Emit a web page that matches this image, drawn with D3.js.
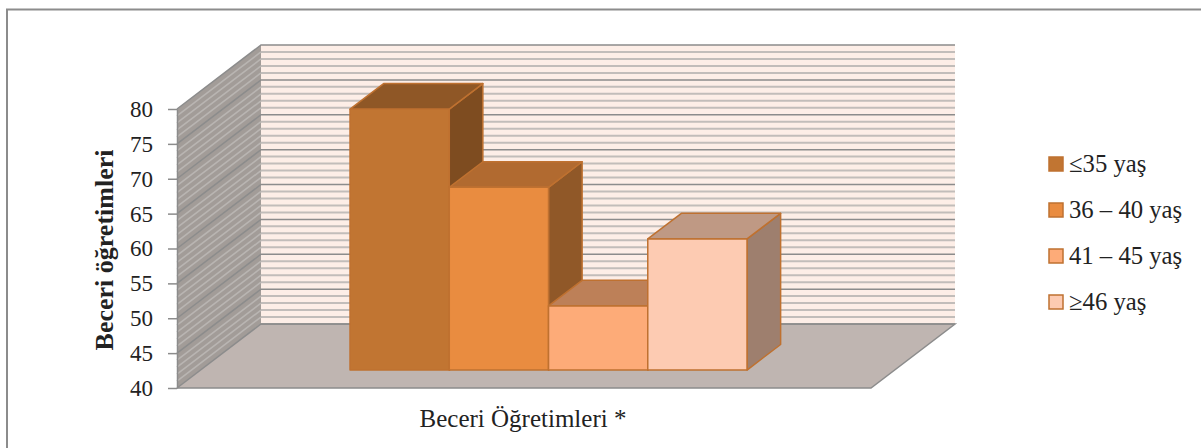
<!DOCTYPE html>
<html>
<head>
<meta charset="utf-8">
<script src="https://cdn.jsdelivr.net/npm/d3@7"></script>
<style>
html, body { margin: 0; padding: 0; background: #fff; }
svg { display: block; }
text { font-family: "Liberation Serif", serif; fill: #222; }
</style>
</head>
<body>
<div id="chart"></div>
<script>
const categories = ["≤35 yaş", "36 – 40 yaş", "41 – 45 yaş", "≥46 yaş"];
const values = [77.4, 66.2, 49.2, 58.8];
const tickValues = [40, 45, 50, 55, 60, 65, 70, 75, 80];
const minorValues = [41, 42, 43, 44, 46, 47, 48, 49, 51, 52, 53, 54, 56, 57, 58, 59, 61, 62, 63, 64, 66, 67, 68, 69, 71, 72, 73, 74, 76, 77, 78, 79];
const frontColours = ["#c17532", "#e98c40", "#fdab78", "#fdcbb2"];
const topColours = ["#8f5726", "#b16a30", "#bd8058", "#bf9984"];
const sideColours = ["#7e4c20", "#905828", "#a06a45", "#9e7f6e"];

const width = 1201, height = 448;
const svg = d3.select("#chart").append("svg").attr("width", width).attr("height", height);

const y = d3.scaleLinear().domain([40, 80]).range([388, 109]);
const xBand = d3.scaleBand().domain(categories).range([326.5, 723.5]).padding(0);

// oblique projection: depth 0 = front of floor, 1 = back wall
const depthX = d3.scaleLinear().domain([0, 1]).range([0, 84]);
const depthY = d3.scaleLinear().domain([0, 1]).range([0, -64]);
const barFront = 0.28, barBack = 0.68;
const floorLeft = 177, floorRight = 871;

const pt = (px, v, d) => [px + depthX(d), y(v) + depthY(d)];
const poly = pts => d3.line()(pts) + "Z";

// outer frame: only the top and left edges show in the crop
svg.append("path").attr("d", d3.line()([[7, height], [7, 9.5], [width, 9.5]]))
    .attr("fill", "none").attr("stroke", "#8c8c8c").attr("stroke-width", 2);

// back wall
svg.append("path").attr("d", poly([pt(floorLeft, 40, 1), pt(floorRight, 40, 1), pt(floorRight, 80, 1), pt(floorLeft, 80, 1)]))
    .attr("fill", "#fdeee7");

// side wall
svg.append("path").attr("d", poly([pt(floorLeft, 40, 0), pt(floorLeft, 40, 1), pt(floorLeft, 80, 1), pt(floorLeft, 80, 0)]))
    .attr("fill", "#a29c98");

// floor
svg.append("path").attr("d", poly([pt(floorLeft, 40, 0), pt(floorRight, 40, 0), pt(floorRight, 40, 1), pt(floorLeft, 40, 1)]))
    .attr("fill", "#bfb5b1");

// gridlines, minor first so the major ones sit on top
minorValues.forEach(v => {
    svg.append("path").attr("d", d3.line()([pt(floorLeft, v, 1), pt(floorRight, v, 1)]))
        .attr("stroke", "#c2bdba").attr("stroke-width", 2).attr("fill", "none");
    svg.append("path").attr("d", d3.line()([pt(floorLeft, v, 0), pt(floorLeft, v, 1)]))
        .attr("stroke", "#b9b5b2").attr("stroke-width", 1.6).attr("fill", "none");
});
tickValues.forEach(v => {
    svg.append("path").attr("d", d3.line()([pt(floorLeft, v, 0), pt(floorLeft, v, 1), pt(floorRight, v, 1)]))
        .attr("stroke", "#8c8c8c").attr("stroke-width", 1.5).attr("fill", "none");
});

// floor edges
svg.append("path").attr("d", d3.line()([pt(floorLeft, 40, 1), pt(floorRight, 40, 1), pt(floorRight, 40, 0), pt(floorLeft, 40, 0)]))
    .attr("stroke", "#8c8c8c").attr("stroke-width", 1.5).attr("fill", "none");

// axis
const axis = d3.axisLeft(y).tickValues(tickValues).tickSize(9).tickSizeOuter(0).tickPadding(15).tickFormat(d3.format("d"));
const axisG = svg.append("g").attr("transform", `translate(${floorLeft},0)`).call(axis);
axisG.selectAll("line, path").attr("stroke", "#8c8c8c").attr("stroke-width", 1.5);
axisG.selectAll("text").attr("font-size", 23).attr("font-family", "Liberation Serif").attr("fill", "#222");

// bars
categories.forEach((c, i) => {
    const x0 = xBand(c), x1 = x0 + xBand.bandwidth(), v = values[i];
    const g = svg.append("g").attr("stroke", "#bf7130").attr("stroke-width", 1.5).attr("stroke-linejoin", "round");
    g.append("path").attr("d", poly([pt(x1, v, barFront), pt(x1, 40, barFront), pt(x1, 40, barBack), pt(x1, v, barBack)]))
        .attr("fill", sideColours[i]);
    g.append("path").attr("d", poly([pt(x0, v, barFront), pt(x1, v, barFront), pt(x1, v, barBack), pt(x0, v, barBack)]))
        .attr("fill", topColours[i]);
    g.append("path").attr("d", poly([pt(x0, 40, barFront), pt(x1, 40, barFront), pt(x1, v, barFront), pt(x0, v, barFront)]))
        .attr("fill", frontColours[i]);
});

// titles
svg.append("text").attr("x", 523).attr("y", 427).attr("text-anchor", "middle").attr("font-size", 25)
    .text("Beceri Öğretimleri *");
svg.append("text").attr("transform", "translate(113,250) rotate(-90)").attr("text-anchor", "middle")
    .attr("font-size", 26).attr("font-weight", "bold").text("Beceri öğretimleri");

// legend
const legendY = d3.scalePoint().domain(categories).range([164, 302]);
const legend = svg.append("g").selectAll("g").data(categories).join("g")
    .attr("transform", d => `translate(1049,${legendY(d)})`);
legend.append("rect").attr("x", 0).attr("y", -7).attr("width", 14).attr("height", 14)
    .attr("fill", (d, i) => frontColours[i]).attr("stroke", "#bf7130").attr("stroke-width", 1.5);
legend.append("text").attr("x", 20).attr("y", 8).attr("font-size", 24.7).text(d => d);
</script>
</body>
</html>
